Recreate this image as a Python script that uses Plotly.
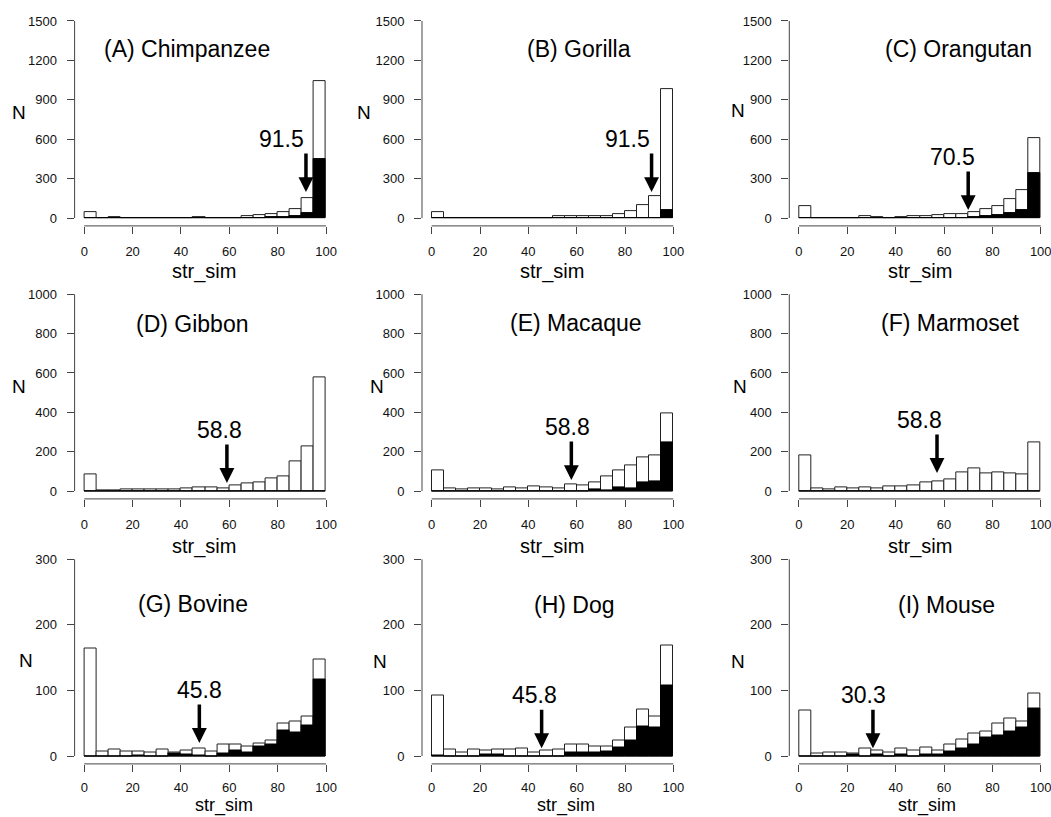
import plotly.graph_objects as go

W, H = 1051, 817

# ---------------- data ----------------
BIN_CENTERS = [2.5, 7.5, 12.5, 17.5, 22.5, 27.5, 32.5, 37.5, 42.5, 47.5,
               52.5, 57.5, 62.5, 67.5, 72.5, 77.5, 82.5, 87.5, 92.5, 97.5]
X_TICKS = [0, 20, 40, 60, 80, 100]
Y_TICKS_ROW1 = [0, 300, 600, 900, 1200, 1500]
Y_TICKS_ROW2 = [0, 200, 400, 600, 800, 1000]
Y_TICKS_ROW3 = [0, 100, 200, 300]

TITLES = ["(A) Chimpanzee", "(B) Gorilla", "(C) Orangutan",
          "(D) Gibbon", "(E) Macaque", "(F) Marmoset",
          "(G) Bovine", "(H) Dog", "(I) Mouse"]
THRESH_LABELS = ["91.5", "91.5", "70.5", "58.8", "58.8", "58.8", "45.8", "45.8", "30.3"]
ARROW_X = [91.7, 91.0, 70.0, 59.0, 57.8, 57.1, 47.6, 45.5, 30.6]
ARROW_TIP_Y = [198, 198, 61, 41, 56, 92, 20, 12, 12]

chimp_all = [45, 3, 8, 3, 3, 3, 3, 3, 3, 4, 3, 3, 3, 12, 25, 30, 48, 70, 152, 1045]
chimp_sub = [0, 0, 0, 0, 0, 0, 0, 0, 0, 0, 0, 0, 0, 2, 3, 5, 10, 18, 38, 451]
gorilla_all = [45, 3, 3, 3, 2, 3, 3, 3, 3, 3, 12, 12, 12, 12, 12, 30, 50, 96, 170, 980]
gorilla_sub = [0, 0, 0, 0, 0, 0, 0, 0, 0, 0, 0, 0, 0, 0, 0, 0, 0, 0, 0, 58]
orang_all = [94, 3, 3, 3, 3, 15, 10, 3, 10, 18, 12, 22, 28, 30, 45, 68, 90, 145, 213, 610]
orang_sub = [0, 0, 0, 0, 0, 0, 0, 0, 0, 0, 0, 0, 0, 2, 5, 12, 25, 38, 58, 342]
gibbon_all = [85, 3, 3, 10, 10, 10, 8, 8, 12, 19, 19, 14, 27, 39, 46, 64, 76, 153, 227, 576]
gibbon_sub = [0, 0, 0, 0, 0, 0, 0, 0, 0, 0, 0, 0, 0, 0, 0, 0, 0, 0, 0, 0]
macaque_all = [103, 12, 8, 14, 14, 8, 19, 14, 22, 19, 12, 34, 27, 44, 73, 107, 130, 171, 181, 395]
macaque_sub = [0, 0, 0, 0, 0, 0, 0, 0, 0, 0, 0, 0, 0, 8, 5, 19, 15, 44, 47, 246]
marmoset_all = [180, 14, 8, 19, 14, 19, 12, 24, 24, 31, 44, 51, 61, 97, 114, 90, 97, 92, 86, 247]
marmoset_sub = [0, 0, 0, 0, 0, 0, 0, 0, 0, 0, 0, 0, 0, 0, 0, 0, 0, 0, 0, 0]
bovine_all = [164, 7, 10, 7, 7, 6, 10, 6, 9, 12, 7, 18, 17, 14, 19, 23, 49, 52, 60, 148]
bovine_sub = [0, 0, 0, 0, 1, 0, 0, 4, 3, 1, 0, 4, 8, 6, 15, 17, 39, 36, 47, 117]
dog_all = [92, 10, 6, 10, 9, 10, 10, 12, 6, 9, 10, 18, 18, 15, 15, 23, 43, 71, 60, 168]
dog_sub = [1, 0, 0, 0, 2, 3, 0, 0, 0, 0, 0, 6, 6, 5, 7, 13, 24, 45, 44, 107]
mouse_all = [70, 4, 6, 6, 4, 12, 9, 6, 12, 9, 13, 9, 18, 25, 34, 38, 49, 57, 52, 96]
mouse_sub = [0, 0, 0, 0, 2, 0, 3, 0, 3, 0, 2, 3, 7, 12, 17, 28, 32, 38, 44, 73]

ALL_COUNTS = [chimp_all, gorilla_all, orang_all, gibbon_all, macaque_all,
              marmoset_all, bovine_all, dog_all, mouse_all]
SUB_COUNTS = [chimp_sub, gorilla_sub, orang_sub, gibbon_sub, macaque_sub,
              marmoset_sub, bovine_sub, dog_sub, mouse_sub]

# ---------------- layout geometry (pixels) ----------------
COL_X = [(74.6, 335.7), (422.0, 683.0), (789.3, 1050.4)]
ROW_Y = [(13.1, 225.9), (286.4, 498.9), (551.5, 763.9)]
ROW_TICKS = [Y_TICKS_ROW1, Y_TICKS_ROW2, Y_TICKS_ROW3]
ROW_XSTANDOFF = [6, 6, 4]

TITLE_POS = [(187, 49), (579, 49), (958, 49),
             (192, 324), (576, 323), (950, 323),
             (193, 604), (574, 605), (946, 605)]
N_POS = [(18.5, 112), (363.5, 112), (738, 110),
         (18.5, 387), (376.5, 386), (740, 387),
         (26, 660), (380, 661), (738, 661)]
XLAB_POS = [(204, 271), (552, 271), (920, 271),
            (204, 546), (552, 546), (920, 546),
            (224, None), (566, None), (927, None)]
LABEL_DX = [-24, -24, -16, -7, -4, -18, 0, -7, -9]

FONT = "Liberation Sans, Arial, sans-serif"
AXC = "#444444"

fig = go.Figure()
annotations = []
shapes = []

for i in range(9):
    r, c = divmod(i, 3)
    n = i + 1
    xa = "x" if n == 1 else f"x{n}"
    ya = "y" if n == 1 else f"y{n}"
    xkey = "xaxis" if n == 1 else f"xaxis{n}"
    ykey = "yaxis" if n == 1 else f"yaxis{n}"
    yt = ROW_TICKS[r]
    ymax = yt[-1]
    pad = ymax * 0.04

    fig.add_trace(go.Bar(x=BIN_CENTERS, y=ALL_COUNTS[i], width=5,
                         marker=dict(color="white", line=dict(color="#222222", width=1)),
                         xaxis=xa, yaxis=ya, showlegend=False, hoverinfo="skip"))
    fig.add_trace(go.Bar(x=BIN_CENTERS, y=SUB_COUNTS[i], width=5,
                         marker=dict(color="black", line=dict(color="black", width=1)),
                         xaxis=xa, yaxis=ya, showlegend=False, hoverinfo="skip"))

    x0p, x1p = COL_X[c]
    y0p, y1p = ROW_Y[r]
    fig.layout[xkey] = dict(
        domain=[x0p / W, x1p / W], range=[-4, 104], anchor=ya,
        tickvals=X_TICKS, ticks="outside", ticklen=7, tickwidth=1, tickcolor=AXC,
        showgrid=False, zeroline=False, showline=False,
        tickfont=dict(family=FONT, size=13, color="#111111"),
        ticklabelstandoff=ROW_XSTANDOFF[r], ticklabeloverflow="allow",
    )
    fig.layout[ykey] = dict(
        domain=[1 - y1p / H, 1 - y0p / H], range=[-pad, ymax + pad], anchor=xa,
        tickvals=yt, ticks="outside", ticklen=7, tickwidth=1, tickcolor=AXC,
        showgrid=False, zeroline=False, showline=False,
        tickfont=dict(family=FONT, size=13, color="#111111"),
        ticklabelstandoff=7, ticklabeloverflow="allow",
    )
    # R-style axis lines spanning only the tick range
    shapes.append(dict(type="line", xref=xa, yref=f"{ya} domain",
                       x0=X_TICKS[0], x1=X_TICKS[-1], y0=0, y1=0,
                       line=dict(color=AXC, width=1)))
    shapes.append(dict(type="line", xref=f"{xa} domain", yref=ya,
                       x0=0, x1=0, y0=yt[0], y1=yt[-1],
                       line=dict(color=AXC, width=1)))

    # arrow
    annotations.append(dict(x=ARROW_X[i], y=ARROW_TIP_Y[i], xref=xa, yref=ya,
                            ax=0, ay=-40, text="", showarrow=True,
                            arrowhead=2, arrowsize=0.85, arrowwidth=3.5,
                            arrowcolor="black"))
    # threshold label
    annotations.append(dict(x=ARROW_X[i], y=ARROW_TIP_Y[i], xref=xa, yref=ya,
                            text=THRESH_LABELS[i], showarrow=False,
                            xshift=LABEL_DX[i], yshift=53,
                            xanchor="center", yanchor="middle",
                            font=dict(family=FONT, size=23, color="black")))
    # title
    tx, ty = TITLE_POS[i]
    annotations.append(dict(x=tx / W, y=1 - ty / H, xref="paper", yref="paper",
                            text=TITLES[i], showarrow=False,
                            xanchor="center", yanchor="middle",
                            font=dict(family=FONT, size=23, color="black")))
    # N label
    nx, ny = N_POS[i]
    annotations.append(dict(x=nx / W, y=1 - ny / H, xref="paper", yref="paper",
                            text="N", showarrow=False,
                            xanchor="center", yanchor="middle",
                            font=dict(family=FONT, size=19, color="black")))
    # x label
    lx, ly = XLAB_POS[i]
    if ly is None:
        annotations.append(dict(x=lx / W, y=0, xref="paper", yref="paper",
                                text="str_sim", showarrow=False,
                                xanchor="center", yanchor="bottom", borderpad=0,
                                font=dict(family=FONT, size=18, color="black")))
    else:
        annotations.append(dict(x=lx / W, y=1 - ly / H, xref="paper", yref="paper",
                                text="str_sim", showarrow=False,
                                xanchor="center", yanchor="middle",
                                font=dict(family=FONT, size=20, color="black")))

fig.update_layout(
    width=W, height=H, margin=dict(l=0, r=0, t=0, b=0),
    paper_bgcolor="white", plot_bgcolor="white",
    barmode="overlay", bargap=0,
    annotations=annotations, shapes=shapes,
    showlegend=False,
)

fig.write_html(
    "out.html",
    config={"displayModeBar": False},
    post_script="document.body.style.margin='0';document.body.style.padding='0';"
                "document.body.style.overflow='hidden';"
                "document.documentElement.style.overflow='hidden';",
)
